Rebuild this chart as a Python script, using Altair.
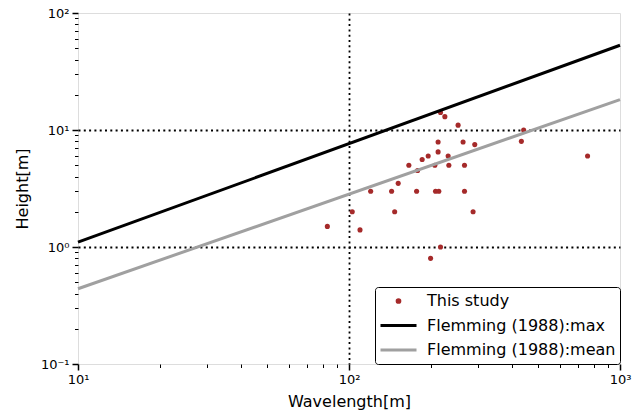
import altair as alt
import pandas as pd

# ---- data ----
wavelength = [217.6, 225.8, 252.7, 213.2, 263.6, 291.1, 213.2, 196.0, 232.2, 186.2,
              166.3, 207.4, 233.6, 266.8, 179.1, 151.9, 120.2, 143.6, 177.6, 208.6,
              214.5, 266.8, 102.8, 147.4, 287.0, 83.2, 109.8, 217.6, 200.0, 441.1,
              432.6, 759.2]
height = [14.1, 13.0, 11.0, 7.9, 7.9, 7.5, 6.5, 6.0, 6.0, 5.6,
          5.0, 5.0, 5.0, 5.0, 4.5, 3.5, 3.0, 3.0, 3.0, 3.0,
          3.0, 3.0, 2.0, 2.0, 2.0, 1.5, 1.4, 1.0, 0.8, 10.0,
          8.0, 6.0]

line_series = ["Flemming (1988):max", "Flemming (1988):max",
               "Flemming (1988):mean", "Flemming (1988):mean"]
line_x = [10, 1000, 10, 1000]
line_y = [1.1, 53.0, 0.44, 18.2]

series_names = ["This study", "Flemming (1988):max", "Flemming (1988):mean"]
series_colors = ["#a52a2a", "#000000", "#a0a0a0"]

x_major_ticks = [10, 100, 1000]
x_minor_ticks = [20, 30, 40, 50, 60, 70, 80, 90,
                 200, 300, 400, 500, 600, 700, 800, 900]
y_major_ticks = [0.1, 1, 10, 100]
y_minor_ticks = [0.2, 0.3, 0.4, 0.5, 0.6, 0.7, 0.8, 0.9,
                 2, 3, 4, 5, 6, 7, 8, 9,
                 20, 30, 40, 50, 60, 70, 80, 90]

pts = pd.DataFrame({"x": wavelength, "y": height, "series": "This study"})
lines = pd.DataFrame({"x": line_x, "y": line_y, "series": line_series})

FONT = "DejaVu Sans"

common = dict(domain=False, tickColor="black", tickOpacity=1, ticks=True,
              labelOverlap=False, labelFlush=False)

x_axis = alt.Axis(
    values=x_major_ticks, orient="bottom",
    labelExpr="datum.value == 10 ? '10¹' : datum.value == 100 ? '10²' : datum.value == 1000 ? '10³' : ''",
    tickSize=6, tickWidth=1.5,
    grid=True,
    gridOpacity={"condition": {"test": "datum.value == 100", "value": 1}, "value": 0},
    gridColor="black", gridDash=[2, 3.3], gridWidth=1.8,
    labelFont=FONT, labelFontSize=13, labelColor="black", labelPadding=3,
    title="Wavelength[m]", titleFont=FONT, titleFontSize=16,
    titleFontWeight="normal", titleColor="black", titlePadding=7,
    **common,
)
y_axis = alt.Axis(
    values=y_major_ticks, orient="left",
    labelExpr="datum.value == 0.1 ? '10⁻¹' : datum.value == 1 ? '10⁰' : datum.value == 10 ? '10¹' : datum.value == 100 ? '10²' : ''",
    tickSize=6, tickWidth=1.5,
    grid=True,
    gridOpacity={"condition": {"test": "datum.value == 1 || datum.value == 10", "value": 1}, "value": 0},
    gridColor="black", gridDash=[2, 3.3], gridWidth=1.8,
    labelFont=FONT, labelFontSize=13, labelColor="black", labelPadding=3,
    title="Height[m]", titleFont=FONT, titleFontSize=16,
    titleFontWeight="normal", titleColor="black", titlePadding=10,
    **common,
)
x_minor_axis = alt.Axis(values=x_minor_ticks, orient="bottom", tickSize=3.5, tickWidth=1,
                        labels=False, grid=False, title=None, **common)
y_minor_axis = alt.Axis(values=y_minor_ticks, orient="left", tickSize=3.5, tickWidth=1,
                        labels=False, grid=False, title=None, **common)

xs = alt.Scale(type="log", domain=[10, 1000], nice=False)
ys = alt.Scale(type="log", domain=[0.1, 100], nice=False)

is_pt = "datum.value == 'This study'"
dot_path = "M -0.075 0 A 0.075 0.075 0 1 0 0.075 0 A 0.075 0.075 0 1 0 -0.075 0 Z"
legend = alt.Legend(
    title=None, orient="bottom-right", offset=0,
    strokeColor="black", fillColor="white", padding=4, cornerRadius=3,
    labelFont=FONT, labelFontSize=16, labelColor="black", labelOffset=9,
    labelLimit=400,
    symbolSize=1296, clipHeight=20, rowPadding=4.5,
    symbolType=alt.ExprRef(f"{is_pt} ? '{dot_path}' : 'stroke'"),
    symbolFillColor=alt.ExprRef(f"{is_pt} ? '#a52a2a' : 'transparent'"),
    symbolStrokeColor=alt.ExprRef(f"{is_pt} ? '#a52a2a' : (datum.value == 'Flemming (1988):max' ? '#000000' : '#a0a0a0')"),
    symbolStrokeWidth=3, symbolOpacity=1,
)

color = alt.Color("series:N", scale=alt.Scale(domain=series_names, range=series_colors),
                  legend=legend)

points = alt.Chart(pts).mark_circle(size=26, opacity=1).encode(
    x=alt.X("x:Q", scale=xs, axis=x_axis),
    y=alt.Y("y:Q", scale=ys, axis=y_axis),
    color=color,
)
lns = alt.Chart(lines).mark_line(strokeWidth=3).encode(
    x=alt.X("x:Q", scale=xs, axis=x_minor_axis),
    y=alt.Y("y:Q", scale=ys, axis=y_minor_axis),
    color=color,
    detail="series:N",
)

chart = alt.layer(points, lns).resolve_axis(
    x="independent", y="independent"
).properties(
    width=542, height=351,
    autosize=alt.AutoSizeParams(type="none"),
    padding={"left": 78, "top": 13, "right": 23, "bottom": 52},
).configure_view(stroke="black", strokeWidth=1.8).configure(background="white")

chart.save("out.html", embed_options={"renderer": "svg", "actions": False})
